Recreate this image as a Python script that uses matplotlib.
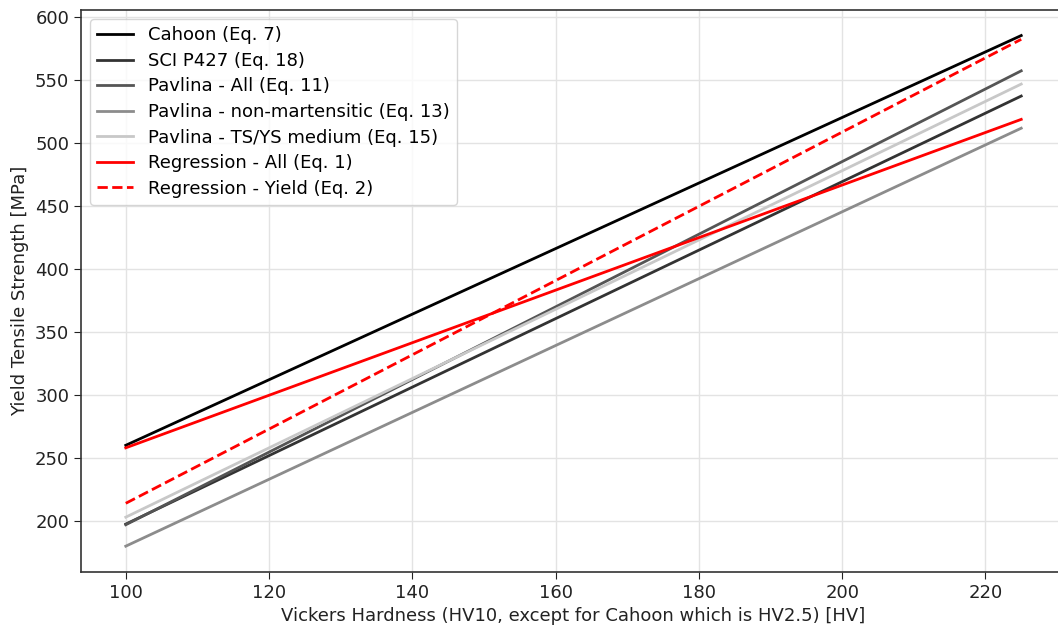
import matplotlib
matplotlib.use("Agg")
import matplotlib.pyplot as plt

hv = [100, 225]
cahoon = [260, 585]
sci_p427 = [197.5, 537]
pavlina_all = [197, 557]
pavlina_nonmart = [180, 511.5]
pavlina_tsys = [203, 546.5]
reg_all = [258, 518.5]
reg_yield = [214, 582]

labels = ["Cahoon (Eq. 7)", "SCI P427 (Eq. 18)", "Pavlina - All (Eq. 11)",
          "Pavlina - non-martensitic (Eq. 13)", "Pavlina - TS/YS medium (Eq. 15)",
          "Regression - All (Eq. 1)", "Regression - Yield (Eq. 2)"]

fig = plt.figure(figsize=(10.58, 6.28), dpi=100)
ax = fig.add_axes([81/1058, (628-571.7)/628, (1066-81)/1058, 561.7/628])

lw = 2.0
ax.plot(hv, cahoon, color="#000000", lw=lw, label=labels[0])
ax.plot(hv, sci_p427, color="#333333", lw=lw, label=labels[1])
ax.plot(hv, pavlina_all, color="#555555", lw=lw, label=labels[2])
ax.plot(hv, pavlina_nonmart, color="#8c8c8c", lw=lw, label=labels[3])
ax.plot(hv, pavlina_tsys, color="#c8c8c8", lw=lw, label=labels[4])
ax.plot(hv, reg_all, color="#ff0000", lw=lw, label=labels[5])
ax.plot(hv, reg_yield, color="#ff0000", lw=lw, ls="--", label=labels[6])

ax.set_xlim(93.75, 231.25)
ax.set_ylim(159.75, 605.25)
ax.set_xticks([100, 120, 140, 160, 180, 200, 220])
ax.set_yticks([200, 250, 300, 350, 400, 450, 500, 550, 600])
ax.grid(True, color="#e3e3e3", lw=1.0)
ax.set_axisbelow(True)
ax.tick_params(labelsize=13, colors="#222222", length=5)
for s in ax.spines.values():
    s.set_color("#333333")
    s.set_linewidth(1.2)
ax.set_xlabel("Vickers Hardness (HV10, except for Cahoon which is HV2.5) [HV]", fontsize=13, color="#222222")
ax.set_ylabel("Yield Tensile Strength [MPa]", fontsize=13, color="#222222")
ax.legend(loc="upper left", fontsize=13, framealpha=0.8, handlelength=2.0,
          borderaxespad=0.5, labelspacing=0.42)

fig.savefig("out.png", dpi=100)
